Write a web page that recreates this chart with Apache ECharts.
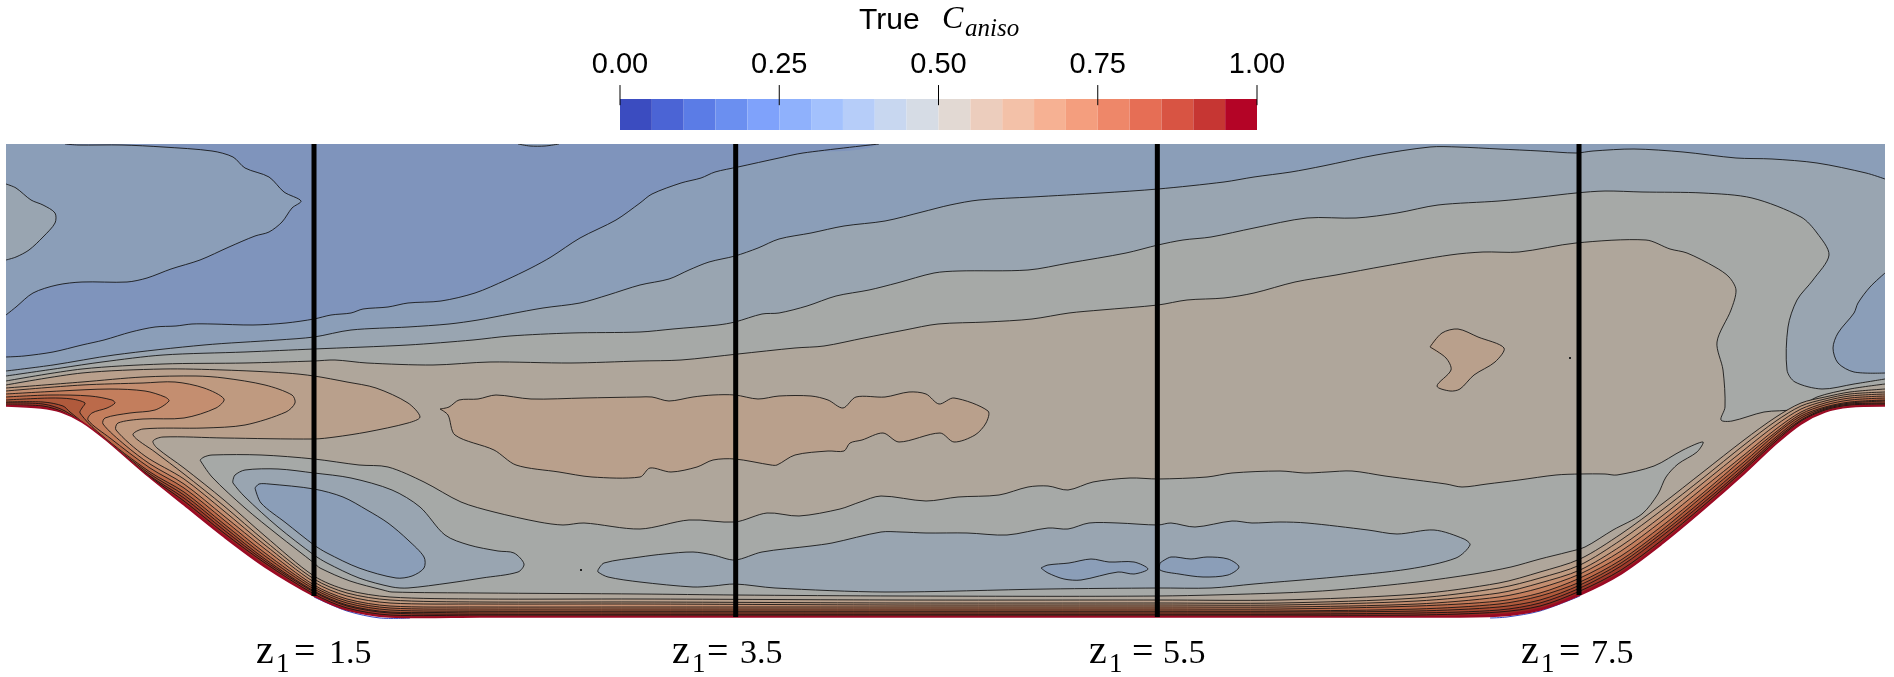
<!DOCTYPE html>
<html>
<head>
<meta charset="utf-8">
<style>html,body{margin:0;padding:0;background:#fff}#c{width:1894px;height:677px}</style>
<script src="https://cdn.jsdelivr.net/npm/echarts@6/dist/echarts.min.js"></script>
</head>
<body>
<div id="c"></div>
<script>
// ---------- colour bar ----------
const colorbarTicks = [0, 0.25, 0.5, 0.75, 1];
const colorbarColors = ['#3b4cc0','#4b64d5','#5b7ce6','#6b8ff0','#7fa2fb','#8fb1fc','#a3c1fd','#b6cdf9','#c8d7f0','#d6dce5',
  '#e2d9d3','#eccdbd','#f3c1a8','#f6b193','#f49e7e','#ee8769','#e66e55','#d85443','#c63633','#b40426'];
// ---------- stations ----------
const stationZ1 = [1.5, 3.5, 5.5, 7.5];
const stationWallY = [596, 617, 617, 595];
const stationLabels = ['1.5', '3.5', '5.5', '7.5'];
const labelStartZ1 = [1.225, 3.198, 5.176, 7.225];
const labelGaps = [[38,73],[35,68],[43,74],[38,70]];
// ---------- band colours ----------
const bandA='#7f94bc', bandB='#8b9eb8', bandC='#99a5b1', bandD='#a6a9a7', bandE='#afa69b', bandF='#b9a08c',
      bandG='#bf9a80', bandH='#c48e70', bandI='#c37e5d', bandJ='#bb6a4a', bandK='#b05a3c', bandL='#a84a32',
      bandM='#9f3a2a', bandN='#942822', bandO='#9b0a24';
// ---------- contours (domain units, y downwards) ----------
const domainBox = [[6,144],[1885,144],[1885,670],[6,670]];
const contourAB = [[6,357],[24,356],[53,352],[82,345],[104,340],[131,332],[155,327],[176,326],[192,324],[212,324],[253,325],[286,323],[314,319],[331,315],[351,313],[363,309],[388,307],[408,303],[441,301],[475,293],[506,280],[531,268],[551,257],[580,238],[616,220],[640,203],[652,194],[681,183],[701,178],[715,172],[738,167],[779,158],[803,153],[879,144]];
const islandTopLeftB = [[65,144],[78,145],[122,145],[163,147],[212,151],[233,157],[245,168],[269,177],[284,192],[301,201],[292,208],[282,222],[269,232],[255,236],[229,247],[200,260],[171,269],[147,278],[127,282],[82,282],[57,285],[33,293],[16,307],[6,315]];
const islandTopLeftC = [[6,184],[16,188],[31,200],[43,205],[55,213],[55,223],[43,237],[29,250],[16,257],[6,260]];
const lensTopB = [[518,144],[530,146],[545,146],[559,144]];
const contourBC = [[6,371],[53,365],[114,355],[204,345],[278,340],[314,337],[351,330],[408,327],[449,324],[478,320],[510,314],[543,308],[580,303],[608,295],[640,285],[669,279],[689,270],[709,262],[735,256],[758,248],[779,239],[811,233],[844,226],[885,221],[922,212],[950,205],[979,200],[1032,197],[1101,193],[1158,189],[1224,182],[1254,177],[1291,172],[1323,166],[1376,155],[1430,147],[1458,147],[1499,149],[1540,151],[1576,153],[1593,151],[1634,149],[1683,152],[1736,158],[1772,159],[1817,163],[1866,173],[1885,179]];
const islandRightB = [[1885,273],[1870,287],[1858,303],[1854,313],[1838,333],[1833,348],[1838,363],[1854,372],[1885,373]];
const contourCD = [[6,376],[61,368],[102,362],[163,355],[245,352],[314,349],[408,345],[473,340],[510,336],[571,333],[640,332],[673,329],[718,325],[735,322],[762,314],[779,313],[807,306],[836,296],[869,290],[897,283],[934,273],[958,271],[1028,270],[1069,263],[1126,253],[1158,245],[1183,240],[1211,237],[1254,228],[1307,218],[1356,218],[1397,213],[1438,205],[1499,201],[1540,197],[1576,193],[1605,191],[1642,192],[1703,193],[1752,198],[1801,217],[1817,233],[1829,255],[1813,280],[1797,300],[1788,327],[1787,370],[1795,382],[1822,389],[1854,384],[1885,379]];
const contourDE = [[6,381],[82,369],[163,364],[245,363],[314,361],[335,360],[367,363],[433,365],[490,362],[571,363],[640,361],[681,360],[738,354],[795,348],[824,346],[864,338],[905,330],[938,324],[987,322],[1032,319],[1069,313],[1101,310],[1158,305],[1187,300],[1224,298],[1254,293],[1295,282],[1336,275],[1385,266],[1450,255],[1483,252],[1519,252],[1576,243],[1646,240],[1670,249],[1687,253],[1715,267],[1729,277],[1736,290],[1731,310],[1717,342],[1723,370],[1725,407],[1721,420],[1732,421],[1764,412],[1795,409],[1817,397],[1850,389],[1885,384]];
const holeD = [[200,460],[204,457],[212,455],[261,455],[314,459],[359,465],[388,467],[424,482],[461,502],[494,512],[539,522],[563,525],[584,523],[640,529],[689,520],[735,522],[767,513],[799,516],[840,509],[860,502],[881,496],[926,501],[958,497],[999,495],[1028,487],[1048,486],[1068,490],[1093,482],[1130,478],[1158,479],[1207,477],[1232,473],[1280,471],[1305,473],[1327,472],[1352,471],[1385,476],[1446,484],[1462,487],[1487,484],[1519,480],[1556,475],[1580,474],[1605,474],[1617,475],[1654,466],[1683,450],[1703,442],[1697,452],[1678,464],[1666,477],[1658,494],[1642,514],[1613,530],[1585,547],[1568,552],[1540,559],[1511,567],[1474,574],[1417,582],[1336,590],[1280,593],[1158,596],[900,596],[735,595],[640,594],[480,593],[392,592],[383,590],[350,581],[320,568],[314,563],[278,535],[245,508],[212,477]];
const holeCLeft = [[233,480],[235,475],[245,470],[278,469],[314,473],[351,478],[392,490],[420,507],[445,535],[469,545],[498,551],[514,553],[524,564],[518,572],[482,578],[449,583],[408,588],[392,587],[359,578],[327,563],[314,555],[278,527],[245,497],[233,483]];
const holeBLeft = [[255,488],[259,484],[269,484],[314,489],[343,497],[367,510],[388,523],[408,540],[424,557],[424,568],[412,576],[396,578],[359,568],[327,553],[314,545],[286,523],[261,503]];
const holeCRight = [[598,570],[604,563],[640,557],[664,554],[693,552],[713,555],[735,560],[762,552],[811,546],[832,543],[881,532],[901,532],[926,533],[967,533],[1007,535],[1048,528],[1068,529],[1089,523],[1118,523],[1158,525],[1171,523],[1195,527],[1232,521],[1252,523],[1280,522],[1307,523],[1368,530],[1397,534],[1434,530],[1464,539],[1470,545],[1456,558],[1409,569],[1336,577],[1254,584],[1211,588],[1158,588],[1048,589],[885,592],[775,588],[735,584],[713,586],[693,587],[640,582],[608,577],[598,572]];
const holeBCentreA = [[1041,568],[1048,565],[1069,563],[1091,559],[1109,562],[1134,562],[1148,569],[1134,574],[1118,572],[1081,580],[1064,579],[1048,573]];
const holeBCentreB = [[1160,563],[1171,557],[1191,559],[1207,557],[1228,559],[1239,567],[1228,575],[1203,577],[1179,574],[1160,570]];
const blobFCentre = [[440,409],[449,407],[459,400],[478,399],[496,395],[531,399],[584,398],[640,397],[652,397],[669,401],[693,397],[713,395],[735,395],[758,399],[779,396],[811,396],[828,400],[843,408],[856,397],[885,397],[909,392],[926,394],[939,404],[954,398],[988,411],[986,423],[975,435],[954,442],[940,433],[899,442],[883,433],[862,440],[850,443],[844,451],[828,451],[795,455],[777,465],[771,465],[735,459],[713,460],[697,467],[671,472],[650,468],[640,477],[592,477],[559,472],[516,465],[494,450],[455,435],[448,415]];
const blobFRight = [[1430,347],[1442,333],[1458,329],[1478,337],[1504,348],[1495,362],[1474,375],[1460,389],[1450,391],[1437,386],[1451,370],[1446,358]];
const specks = [[581,570],[1570,358]];
// near-wall contour rows, all read at the same stations
const nearWallX = [184,224,265,314,347,390,480,640,900,1158,1280,1417,1499,1540,1580,1621,1662,1703,1744,1776,1801,1825,1850,1885];
const wallRow = [505,537,567,596,610,617,617,617,617,617,617,617,616,610,595,574,544,510,474,444,424,412,407,406];
const rowEF = [468,500,536,576,590,597,599,599,600,600,600,594,583,572,559,534,504,472,440,417,403,397,392,389];
const rowFG = [474,506,541,579,593,600,602,602,603,603,603,598,588,578,565,540,510,478,445,421,406,399,394,392];
const rowGH = [479,511,545,582,596,603,604,604,605,605,605,601,593,583,570,546,516,483,450,425,409,401,396,394];
const rowHI = [484,516,549,585,599,606,607,607,607,607,607,604,597,588,574,551,521,488,455,429,412,403,398,396];
const rowIJ = [488,520,553,587,601,608,609,609,609,609,609,606,601,593,578,556,526,493,458,432,414,405,400,398];
const rowJK = [492,524,556,589,603,610,611,611,611,611,611,609,604,596,582,560,530,496,462,434,416,407,402,400];
const rowKL = [495,527,559,591,605,612,612,612,612,612,612,611,607,600,585,563,533,500,465,437,418,408,403,401];
const rowLM = [498,530,561,592,606,613,614,614,614,614,614,613,610,603,588,566,536,503,468,439,420,409,404,403];
const rowMN = [501,533,563,594,608,615,615,615,615,615,615,615,612,606,591,570,540,506,470,441,421,410,405,404];
const rowNO = [503,535,565,595,609,616,616,616,616,616,616,616,614,608,593,572,542,508,472,442,422,411,406,405];
// left ends of the same contours, including the tongues of the hot spot
const leadEF = [[6,385],[82,373],[163,369],[224,370],[286,373],[314,376],[347,382],[376,388],[408,403],[420,417],[408,423],[367,432],[335,437],[314,439],[224,438],[163,437],[153,441],[157,448]];
const leadFG = [[6,388],[82,382],[143,377],[196,376],[224,378],[265,385],[292,395],[295,403],[286,412],[245,425],[204,428],[143,429],[133,435],[155,452]];
const leadGH = [[6,391],[82,385],[143,383],[175,382],[204,388],[224,399],[216,408],[184,418],[143,419],[118,423],[116,430],[145,456]];
const leadHI = [[6,394],[60,391],[110,389],[145,391],[165,397],[169,401],[155,410],[130,413],[105,418],[103,424],[125,445],[150,464]];
const leadIJ = [[6,397],[50,395],[90,396],[112,400],[115,403],[107,408],[92,413],[88,420],[110,438],[150,468]];
const leadJK = [[6,400],[50,398],[72,399],[85,403],[82,408],[80,413],[100,434],[150,472]];
const leadKL = [[6,402],[43,402],[63,406],[70,412],[95,432],[150,474]];
const leadLM = [[6,403],[43,404],[65,411],[95,433],[150,476]];
const leadMN = [[6,405],[43,406],[65,413],[95,435],[150,477]];
const leadNO = [[6,405],[43,407],[65,414],[95,436],[150,478]];
const leadWall = [[6,406],[41,408],[61,412],[82,422],[106,440],[143,472]];
const wallBlueFringeLeft = [[314,597],[347,611],[380,618],[410,618]];
const wallBlueFringeRight = [[1490,618],[1507,617],[1540,611],[1580,596]];

// ---------- assembling layers ----------
const zip = (xs, ys) => xs.map((x, i) => [x, ys[i]]);
const nearWall = (lead, row) => lead.concat(zip(nearWallX, row));
const wallLine = nearWall(leadWall, wallRow);
// fills run past the frame before they close, so the closure cannot bend them; the frame is masked afterwards
const offL = -40, offR = 1934, offT = 100, offB = 720;
const acrossField = line => [[offL, line[0][1]]].concat(line, [[offR, line[line.length - 1][1]], [offR, offB], [offL, offB]]);
const layers = [
  {fill: bandA, ring: domainBox},
  {fill: bandB, line: contourAB, ring: [[offL,357]].concat(contourAB, [[900,offT],[offR,offT],[offR,offB],[offL,offB]])},
  {fill: bandB, line: islandTopLeftB, ring: [[60,offT]].concat(islandTopLeftB, [[offL,335],[offL,offT]])},
  {fill: bandC, line: islandTopLeftC, ring: [[offL,175]].concat(islandTopLeftC, [[offL,275]])},
  {fill: bandB, line: lensTopB, ring: [[510,offT]].concat(lensTopB, [[565,offT]])},
  {fill: bandC, line: contourBC, ring: acrossField(contourBC)},
  {fill: bandB, line: islandRightB, ring: [[offR,245]].concat(islandRightB, [[offR,380]])},
  {fill: bandD, line: contourCD, ring: acrossField(contourCD)},
  {fill: bandE, line: contourDE, ring: acrossField(contourDE)},
  {fill: bandD, line: holeD, loop: true},
  {fill: bandC, line: holeCLeft, loop: true},
  {fill: bandB, line: holeBLeft, loop: true},
  {fill: bandC, line: holeCRight, loop: true},
  {fill: bandB, line: holeBCentreA, loop: true},
  {fill: bandB, line: holeBCentreB, loop: true},
  {fill: bandF, line: blobFCentre, loop: true},
  {fill: bandF, line: blobFRight, loop: true}
];
[[bandF,leadEF,rowEF],[bandG,leadFG,rowFG],[bandH,leadGH,rowGH],[bandI,leadHI,rowHI],[bandJ,leadIJ,rowIJ],
 [bandK,leadJK,rowJK],[bandL,leadKL,rowKL],[bandM,leadLM,rowLM],[bandN,leadMN,rowMN],[bandO,leadNO,rowNO]].forEach(b => {
  const line = nearWall(b[1], b[2]);
  layers.push({fill: b[0], line, ring: acrossField(line), noStroke: b[0] === bandO});
});

const chart = echarts.init(document.getElementById('c'), null, {renderer: 'canvas'});
const serif = '"Liberation Serif", serif';
const sans = '"Liberation Sans", sans-serif';
const smoothness = 0.3;

function renderLayer(params, api) {
  const l = layers[params.dataIndex];
  const ring = l.ring || l.line;
  const children = [{type: 'polygon', shape: {points: ring.map(p => api.coord(p)), smooth: l === layers[0] ? 0 : smoothness},
    style: {fill: l.fill, stroke: null}, silent: true}];
  if (l.line && !l.noStroke) {
    const path = l.loop ? l.line.concat([l.line[0]]) : l.line;
    children.push({type: 'polyline', shape: {points: path.map(p => api.coord(p)), smooth: smoothness},
      style: {fill: null, stroke: '#111', lineWidth: 1, opacity: 0.85}, silent: true});
  }
  return {type: 'group', children};
}
function renderMask(params, api) {
  const ringPts = [[offL,406]].concat(wallLine, [[offR,406],[offR,offB],[offL,offB]]).map(p => api.coord(p));
  const rect = (x0, y0, x1, y1) => {
    const a = api.coord([x0, y0]), b = api.coord([x1, y1]);
    return {type: 'rect', shape: {x: a[0], y: a[1], width: b[0] - a[0], height: b[1] - a[1]}, style: {fill: '#fff'}, silent: true};
  };
  const stroke = (pts, color, w) => ({type: 'polyline', shape: {points: pts.map(p => api.coord(p)), smooth: smoothness},
    style: {fill: null, stroke: color, lineWidth: w}, silent: true});
  return {type: 'group', children: [
    stroke(wallBlueFringeLeft, '#3b4cc0', 1),
    {type: 'polygon', shape: {points: ringPts, smooth: smoothness}, style: {fill: '#fff'}, silent: true},
    rect(0, 0, 6, 677), rect(1885, 0, 1894, 677), rect(0, 0, 1894, 144),
    stroke(wallBlueFringeLeft, '#3b4cc0', 1),
    stroke(wallBlueFringeRight, '#3b4cc0', 1),
    stroke(wallLine, '#9b0a24', 1.5)
  ]};
}
function renderStation(params, api) {
  const a = api.coord([api.value(0), 144]);
  const b = api.coord([api.value(0), api.value(1)]);
  return {type: 'line', shape: {x1: a[0], y1: a[1], x2: b[0], y2: b[1]}, style: {stroke: '#000', lineWidth: 5}, silent: true};
}
function renderLabel(params, api) {
  const i = params.dataIndex;
  const p = api.coord([api.value(0), 665]);
  const g = labelGaps[i];
  const t = (x, y, text, size) => ({type: 'text', silent: true,
    style: {x: p[0] + x, y: p[1] + y, text, font: size + 'px ' + serif, fill: '#000', align: 'left', verticalAlign: 'bottom'}});
  return {type: 'group', children: [
    t(0, 7, 'z', 40),
    t(20, 13, '1', 27),
    t(g[0], 7, '=', 38),
    t(g[1], 6, stationLabels[i], 34)
  ]};
}
function renderSpeck(params, api) {
  const p = api.coord([api.value(0), api.value(1)]);
  return {type: 'rect', shape: {x: p[0] - 1, y: p[1] - 1, width: 2, height: 2}, style: {fill: '#222'}, silent: true};
}
function renderCell(params, api) {
  const n = colorbarColors.length, i = params.dataIndex;
  const a = api.coord([i / n, 1]), b = api.coord([(i + 1) / n, 0]);
  return {type: 'rect', shape: {x: a[0], y: a[1], width: b[0] - a[0], height: b[1] - a[1]},
    style: {fill: colorbarColors[i]}, silent: true};
}
function renderBarTick(params, api) {
  const a = api.coord([api.value(0), 1.45]), b = api.coord([api.value(0), 0.8]);
  return {type: 'line', shape: {x1: a[0], y1: a[1], x2: b[0], y2: b[1]}, style: {stroke: '#000', lineWidth: 1}, silent: true};
}
const hidden = {show: false};
const base = {type: 'custom', animation: false, clip: false, silent: true};
chart.setOption({
  animation: false,
  backgroundColor: '#fff',
  grid: [
    {left: 0, top: 0, width: 1894, height: 677, outerBoundsMode: 'none', containLabel: false},
    {left: 620, top: 99, width: 637, height: 31, outerBoundsMode: 'none', containLabel: false}
  ],
  xAxis: [
    {type: 'value', gridIndex: 0, min: 0, max: 1894, axisLine: hidden, axisTick: hidden, axisLabel: hidden, splitLine: hidden},
    {type: 'value', gridIndex: 0, min: 0.0106, max: 8.994, axisLine: hidden, axisTick: hidden, axisLabel: hidden, splitLine: hidden},
    {type: 'value', gridIndex: 1, position: 'top', z: 50, min: 0, max: 1, interval: 0.25, axisLine: hidden, axisTick: hidden, splitLine: hidden,
      axisLabel: {show: true, margin: 20, fontSize: 29, fontFamily: sans, color: '#000', showMinLabel: true, showMaxLabel: true,
        formatter: v => colorbarTicks.includes(v) ? v.toFixed(2) : ''}}
  ],
  yAxis: [
    {type: 'value', gridIndex: 0, min: 0, max: 677, inverse: true, axisLine: hidden, axisTick: hidden, axisLabel: hidden, splitLine: hidden},
    {type: 'value', gridIndex: 1, min: 0, max: 1, axisLine: hidden, axisTick: hidden, axisLabel: hidden, splitLine: hidden}
  ],
  graphic: [
    {type: 'text', z: 100, left: 859, top: 6, silent: true, style: {text: 'True', font: '30px ' + sans, fill: '#000'}},
    {type: 'text', z: 100, left: 942, top: 4, silent: true, style: {text: 'C', font: 'italic 32px ' + serif, fill: '#000'}},
    {type: 'text', z: 100, left: 965, top: 17, silent: true, style: {text: 'aniso', font: 'italic 25px ' + serif, fill: '#000'}}
  ],
  series: [
    Object.assign({}, base, {name: 'field', xAxisIndex: 0, yAxisIndex: 0, encode: {x: 0, y: 1}, data: layers.map((l, i) => [i, 0]), renderItem: renderLayer}),
    Object.assign({}, base, {name: 'specks', xAxisIndex: 0, yAxisIndex: 0, encode: {x: 0, y: 1}, data: specks, renderItem: renderSpeck}),
    Object.assign({}, base, {name: 'wall', xAxisIndex: 0, yAxisIndex: 0, encode: {x: 0, y: 1}, data: [[0, 0]], renderItem: renderMask}),
    Object.assign({}, base, {name: 'stations', xAxisIndex: 1, yAxisIndex: 0, encode: {x: 0, y: 1}, data: zip(stationZ1, stationWallY), renderItem: renderStation}),
    Object.assign({}, base, {name: 'labels', xAxisIndex: 1, yAxisIndex: 0, encode: {x: 0, y: 1}, data: labelStartZ1.map(z => [z, 665]), renderItem: renderLabel}),
    Object.assign({}, base, {name: 'colorbar', xAxisIndex: 2, yAxisIndex: 1, encode: {x: 0, y: 1}, data: colorbarColors.map((c, i) => [i / colorbarColors.length, 0]), renderItem: renderCell}),
    Object.assign({}, base, {name: 'colorbarTicks', xAxisIndex: 2, yAxisIndex: 1, encode: {x: 0, y: 1}, data: colorbarTicks.map(v => [v, 1]), renderItem: renderBarTick})
  ]
});
</script>
</body>
</html>
